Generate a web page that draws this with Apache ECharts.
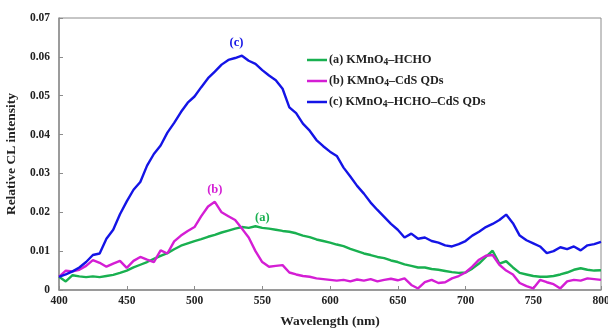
<!DOCTYPE html>
<html>
<head>
<meta charset="utf-8">
<script src="https://cdn.jsdelivr.net/npm/echarts@6/dist/echarts.min.js"></script>
<style>
  html, body { margin: 0; padding: 0; background: #fff; }
  #chart { width: 608px; height: 329px; }
</style>
</head>
<body>
<div id="chart"></div>
<script>
// wavelength, 400..800 nm every 5 nm
const wavelengths = [];
for (let w = 400; w <= 800; w += 5) wavelengths.push(w);

// (a) KMnO4-HCHO
const seriesA = [
  0.0034, 0.0022, 0.0038, 0.0035, 0.0033, 0.0035, 0.0033, 0.0036, 0.0039, 0.0044,
  0.0050, 0.0058, 0.0065, 0.0072, 0.0080, 0.0088, 0.0095, 0.0105, 0.0114, 0.0120,
  0.0126, 0.0131, 0.0137, 0.0142, 0.0148, 0.0153, 0.0158, 0.0162, 0.0160, 0.0164,
  0.0160, 0.0158, 0.0155, 0.0152, 0.0150, 0.0146, 0.0140, 0.0136, 0.0130, 0.0126,
  0.0122, 0.0117, 0.0113, 0.0106, 0.0100, 0.0094, 0.0090, 0.0085, 0.0082, 0.0076,
  0.0072, 0.0066, 0.0062, 0.0058, 0.0058, 0.0054, 0.0052, 0.0049, 0.0046, 0.0044,
  0.0045, 0.0055, 0.0068, 0.0085, 0.0101, 0.0068, 0.0074, 0.0058, 0.0044, 0.0040,
  0.0036, 0.0034, 0.0034, 0.0036, 0.0040, 0.0045, 0.0052, 0.0056, 0.0052, 0.0050,
  0.0051
];

// (b) KMnO4-CdS QDs
const seriesB = [
  0.0034, 0.0050, 0.0048, 0.0052, 0.0062, 0.0077, 0.0070, 0.0060, 0.0068, 0.0075,
  0.0057, 0.0075, 0.0085, 0.0078, 0.0072, 0.0102, 0.0094, 0.0125, 0.0140, 0.0152,
  0.0162, 0.0190, 0.0215, 0.0227, 0.0200, 0.0190, 0.0180, 0.0158, 0.0135, 0.0100,
  0.0072, 0.0060, 0.0062, 0.0064, 0.0045, 0.0040, 0.0036, 0.0034, 0.0030, 0.0028,
  0.0026, 0.0024, 0.0026, 0.0022, 0.0027, 0.0024, 0.0028, 0.0022, 0.0026, 0.0029,
  0.0025, 0.0030, 0.0013, 0.0004, 0.0020, 0.0026, 0.0018, 0.0020, 0.0030, 0.0036,
  0.0045, 0.0060, 0.0078, 0.0088, 0.0090, 0.0065, 0.0050, 0.0040, 0.0018, 0.0010,
  0.0004, 0.0026, 0.0020, 0.0015, 0.0004, 0.0022, 0.0026, 0.0024, 0.0030, 0.0028,
  0.0026
];

// (c) KMnO4-HCHO-CdS QDs
const seriesC = [
  0.0034, 0.0040, 0.0048, 0.0058, 0.0072, 0.0090, 0.0094, 0.0132, 0.0155, 0.0195,
  0.0228, 0.0258, 0.0278, 0.0320, 0.0350, 0.0372, 0.0405, 0.0430, 0.0458, 0.0482,
  0.0498, 0.0522, 0.0545, 0.0562, 0.0580, 0.0592, 0.0597, 0.0603, 0.0590, 0.0582,
  0.0566, 0.0552, 0.0540, 0.0518, 0.0470, 0.0455, 0.0428, 0.0410, 0.0386, 0.0370,
  0.0356, 0.0345, 0.0315, 0.0292, 0.0268, 0.0248, 0.0225, 0.0206, 0.0188, 0.0170,
  0.0155, 0.0135, 0.0145, 0.0132, 0.0135, 0.0126, 0.0122, 0.0115, 0.0112, 0.0118,
  0.0126, 0.0140, 0.0150, 0.0162, 0.0170, 0.0180, 0.0194, 0.0172, 0.0140, 0.0128,
  0.0120, 0.0112, 0.0095, 0.0100, 0.0110, 0.0105, 0.0112, 0.0102, 0.0115, 0.0118,
  0.0124
];

const seriesNames = ['(a) KMnO4–HCHO', '(b) KMnO4–CdS QDs', '(c) KMnO4–HCHO–CdS QDs'];
const seriesTags = ['(a)', '(b)', '(c)'];
// where the (a)/(b)/(c) tags sit, in data units
const tagPos = [[550, 0.0185], [515, 0.0257], [531, 0.0636]];
const colors = ['#19b050', '#d41ed4', '#1414e6'];

const font = 'Liberation Serif, Times New Roman, serif';
const axisGray = '#8c8c8c';

function pairs(vals) {
  return wavelengths.map((w, i) => [w, vals[i]]);
}

function makeSeries(i, vals) {
  return {
    name: seriesNames[i],
    type: 'line',
    data: pairs(vals),
    symbol: 'none',
    color: colors[i],
    lineStyle: { width: 2.4, color: colors[i] },
    markPoint: {
      symbol: 'circle',
      symbolSize: 0,
      data: [{ coord: tagPos[i], value: seriesTags[i] }],
      label: {
        show: true,
        formatter: seriesTags[i],
        color: colors[i],
        fontFamily: font,
        fontWeight: 'bold',
        fontSize: 12.5
      }
    }
  };
}

const chart = echarts.init(document.getElementById('chart'), null, { renderer: 'canvas' });

chart.setOption({
  animation: false,
  backgroundColor: '#fff',
  grid: {
    left: 59,
    right: 7,
    top: 18,
    bottom: 39,
    outerBoundsMode: 'none',
    show: true,
    borderColor: axisGray,
    borderWidth: 1
  },
  legend: {
    orient: 'vertical',
    left: 302,
    top: 49,
    itemWidth: 20,
    itemHeight: 14,
    itemGap: 7,
    icon: 'path://M0,6 L20,6 L20,8.5 L0,8.5 Z',
    textStyle: {
      fontFamily: font,
      fontWeight: 'bold',
      fontSize: 12.2,
      color: '#222',
      padding: [0, 0, 0, -3],
      rich: {
        sub: {
          fontFamily: font,
          fontWeight: 'bold',
          fontSize: 9.5,
          color: '#222',
          verticalAlign: 'bottom',
          padding: [6, 0, 0, 0]
        }
      }
    },
    formatter: name => name.replace('KMnO4', 'KMnO{sub|4}'),
    data: seriesNames
  },
  xAxis: {
    type: 'value',
    min: 400,
    max: 800,
    interval: 50,
    name: 'Wavelength (nm)',
    nameLocation: 'middle',
    nameGap: 25,
    nameTextStyle: { fontFamily: font, fontWeight: 'bold', fontSize: 13.5, color: '#222' },
    axisLine: { show: true, lineStyle: { color: axisGray, width: 1.5 } },
    axisTick: { show: true, inside: true, length: 4, lineStyle: { color: axisGray } },
    axisLabel: { fontFamily: font, fontWeight: 'bold', fontSize: 11.5, color: '#222', margin: 5 },
    splitLine: { show: false }
  },
  yAxis: {
    type: 'value',
    min: 0,
    max: 0.07,
    interval: 0.01,
    name: 'Relative CL intensity',
    nameLocation: 'middle',
    nameGap: 36,
    nameTextStyle: { fontFamily: font, fontWeight: 'bold', fontSize: 13.5, color: '#222' },
    axisLine: { show: true, lineStyle: { color: axisGray, width: 1.5 } },
    axisTick: { show: true, inside: true, length: 4, lineStyle: { color: axisGray } },
    axisLabel: {
      fontFamily: font,
      fontWeight: 'bold',
      fontSize: 11.5,
      color: '#222',
      margin: 9,
      formatter: v => (v === 0 ? '0' : v.toFixed(2))
    },
    splitLine: { show: false }
  },
  series: [
    makeSeries(0, seriesA),
    makeSeries(1, seriesB),
    makeSeries(2, seriesC)
  ]
});
</script>
</body>
</html>
